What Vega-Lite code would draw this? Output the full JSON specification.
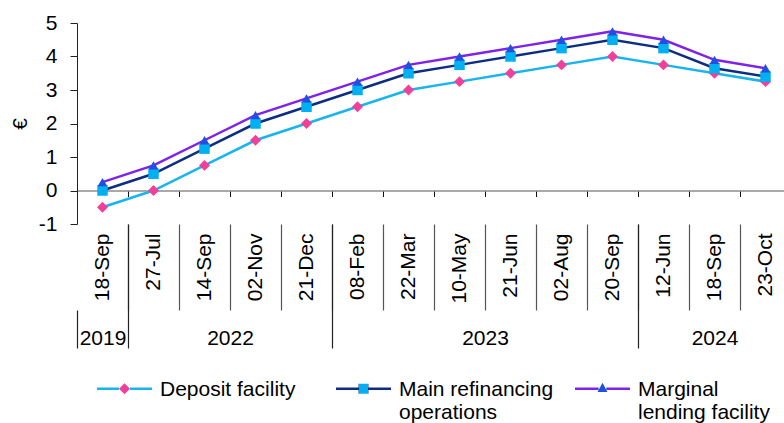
{
  "$schema": "https://vega.github.io/schema/vega-lite/v6.json",
  "width": 707,
  "height": 201,
  "autosize": "none",
  "padding": {"left": 77, "top": 23, "right": 0, "bottom": 199},
  "background": "white",
  "config": {
    "font": "Liberation Sans",
    "view": {"stroke": null},
    "axis": {"labelFontSize": 21, "labelColor": "#000000", "grid": false, "titleFontWeight": "normal", "labelOverlap": false},
    "axisY": {
      "values": [-1, 0, 1, 2, 3, 4, 5],
      "labelOverlap": false,
      "labelSeparation": -30,
      "labelExpr": "datum.value + ''",
      "domainColor": "#222222",
      "tickColor": "#222222",
      "tickSize": 7,
      "labelPadding": 13,
      "titleFontSize": 21,
      "titleColor": "#000000",
      "titlePadding": 8
    },
    "legend": {"labelFontSize": 21, "labelColor": "#000000"}
  },
  "data": {
    "values": [
      {"date": "2019-09-18", "series": "Deposit facility", "rate": -0.5},
      {"date": "2022-07-27", "series": "Deposit facility", "rate": 0},
      {"date": "2022-09-14", "series": "Deposit facility", "rate": 0.75},
      {"date": "2022-11-02", "series": "Deposit facility", "rate": 1.5},
      {"date": "2022-12-21", "series": "Deposit facility", "rate": 2.0},
      {"date": "2023-02-08", "series": "Deposit facility", "rate": 2.5},
      {"date": "2023-03-22", "series": "Deposit facility", "rate": 3.0},
      {"date": "2023-05-10", "series": "Deposit facility", "rate": 3.25},
      {"date": "2023-06-21", "series": "Deposit facility", "rate": 3.5},
      {"date": "2023-08-02", "series": "Deposit facility", "rate": 3.75},
      {"date": "2023-09-20", "series": "Deposit facility", "rate": 4.0},
      {"date": "2024-06-12", "series": "Deposit facility", "rate": 3.75},
      {"date": "2024-09-18", "series": "Deposit facility", "rate": 3.5},
      {"date": "2024-10-23", "series": "Deposit facility", "rate": 3.25},
      {"date": "2019-09-18", "series": "Main refinancing operations", "rate": 0},
      {"date": "2022-07-27", "series": "Main refinancing operations", "rate": 0.5},
      {"date": "2022-09-14", "series": "Main refinancing operations", "rate": 1.25},
      {"date": "2022-11-02", "series": "Main refinancing operations", "rate": 2.0},
      {"date": "2022-12-21", "series": "Main refinancing operations", "rate": 2.5},
      {"date": "2023-02-08", "series": "Main refinancing operations", "rate": 3.0},
      {"date": "2023-03-22", "series": "Main refinancing operations", "rate": 3.5},
      {"date": "2023-05-10", "series": "Main refinancing operations", "rate": 3.75},
      {"date": "2023-06-21", "series": "Main refinancing operations", "rate": 4.0},
      {"date": "2023-08-02", "series": "Main refinancing operations", "rate": 4.25},
      {"date": "2023-09-20", "series": "Main refinancing operations", "rate": 4.5},
      {"date": "2024-06-12", "series": "Main refinancing operations", "rate": 4.25},
      {"date": "2024-09-18", "series": "Main refinancing operations", "rate": 3.65},
      {"date": "2024-10-23", "series": "Main refinancing operations", "rate": 3.4},
      {"date": "2019-09-18", "series": "Marginal lending facility", "rate": 0.25},
      {"date": "2022-07-27", "series": "Marginal lending facility", "rate": 0.75},
      {"date": "2022-09-14", "series": "Marginal lending facility", "rate": 1.5},
      {"date": "2022-11-02", "series": "Marginal lending facility", "rate": 2.25},
      {"date": "2022-12-21", "series": "Marginal lending facility", "rate": 2.75},
      {"date": "2023-02-08", "series": "Marginal lending facility", "rate": 3.25},
      {"date": "2023-03-22", "series": "Marginal lending facility", "rate": 3.75},
      {"date": "2023-05-10", "series": "Marginal lending facility", "rate": 4.0},
      {"date": "2023-06-21", "series": "Marginal lending facility", "rate": 4.25},
      {"date": "2023-08-02", "series": "Marginal lending facility", "rate": 4.5},
      {"date": "2023-09-20", "series": "Marginal lending facility", "rate": 4.75},
      {"date": "2024-06-12", "series": "Marginal lending facility", "rate": 4.5},
      {"date": "2024-09-18", "series": "Marginal lending facility", "rate": 3.9},
      {"date": "2024-10-23", "series": "Marginal lending facility", "rate": 3.65}
    ]
  },
  "layer": [
    {
      "mark": {"type": "line", "strokeWidth": 2.5},
      "encoding": {
        "x": {
          "field": "date",
          "type": "ordinal",
          "scale": {"type": "band", "range": [0, 714], "paddingInner": 0, "paddingOuter": 0},
          "axis": {
            "orient": "bottom",
            "offset": -33.5,
            "domain": true,
            "domainColor": "#8c8c8c",
            "domainWidth": 1.5,
            "ticks": true,
            "tickBand": "extent",
            "tickSize": 6,
            "tickColor": "#111111",
            "labels": false,
            "title": null
          }
        },
        "y": {
          "field": "rate",
          "type": "quantitative",
          "title": "€",
          "scale": {"domain": [-1, 5], "nice": false, "zero": false},
          "axis": {"labelOverlap": false, "values": [-1, 0, 1, 2, 3, 4, 5]}
        },
        "color": {
          "field": "series",
          "type": "nominal",
          "scale": {
            "domain": ["Deposit facility", "Main refinancing operations", "Marginal lending facility"],
            "range": ["#18B4EE", "#0C2D82", "#7E22EC"]
          },
          "legend": {
            "orient": "none",
            "legendX": 20,
            "legendY": 338,
            "direction": "horizontal",
            "columns": 3,
            "gridAlign": "all",
            "columnPadding": 21,
            "title": null,
            "labelOffset": 8,
            "labelLimit": 0,
            "labelBaseline": "top",
            "symbolSize": 3025,
            "symbolStrokeWidth": 0,
            "labelExpr": "datum.label == 'Main refinancing operations' ? ['Main refinancing', 'operations'] : datum.label == 'Marginal lending facility' ? ['Marginal', 'lending facility'] : [datum.label, '']",
            "encode": {
              "labels": {"update": {"dy": {"value": -10}}},
              "symbols": {
                "update": {
                  "strokeWidth": {"value": 0},
                  "shape": [
                    {"test": "datum.value == 'Deposit facility'", "value": "M-1,-0.045H-0.2V0.045H-1Z M0.2,-0.045H1V0.045H0.2Z M-0.2,0L0,-0.2L0.2,0L0,0.2Z"},
                    {"test": "datum.value == 'Main refinancing operations'", "value": "M-1,-0.045H-0.18V0.045H-1Z M0.18,-0.045H1V0.045H0.18Z M-0.18,-0.18H0.18V0.18H-0.18Z"},
                    {"value": "M-1,-0.045H-0.14V0.045H-1Z M0.14,-0.045H1V0.045H0.14Z M0,-0.22L0.18,0.12L-0.18,0.12Z"}
                  ],
                  "fill": [
                    {"test": "datum.value == 'Deposit facility'", "value": {"gradient": "linear", "x1": 0, "y1": 0, "x2": 1, "y2": 0, "stops": [{"offset": 0, "color": "#18B4EE"}, {"offset": 0.4, "color": "#18B4EE"}, {"offset": 0.4, "color": "#F0409A"}, {"offset": 0.6, "color": "#F0409A"}, {"offset": 0.6, "color": "#18B4EE"}, {"offset": 1, "color": "#18B4EE"}]}},
                    {"test": "datum.value == 'Main refinancing operations'", "value": {"gradient": "linear", "x1": 0, "y1": 0, "x2": 1, "y2": 0, "stops": [{"offset": 0, "color": "#0C2D82"}, {"offset": 0.41, "color": "#0C2D82"}, {"offset": 0.41, "color": "#00B0F0"}, {"offset": 0.59, "color": "#00B0F0"}, {"offset": 0.59, "color": "#0C2D82"}, {"offset": 1, "color": "#0C2D82"}]}},
                    {"value": {"gradient": "linear", "x1": 0, "y1": 0, "x2": 1, "y2": 0, "stops": [{"offset": 0, "color": "#7E22EC"}, {"offset": 0.41, "color": "#7E22EC"}, {"offset": 0.41, "color": "#2150E0"}, {"offset": 0.59, "color": "#2150E0"}, {"offset": 0.59, "color": "#7E22EC"}, {"offset": 1, "color": "#7E22EC"}]}}
                  ]
                }
              }
            }
          }
        }
      }
    },
    {
      "transform": [{"filter": "datum.series == 'Deposit facility'"}],
      "mark": {"type": "point", "shape": "diamond", "filled": true, "fill": "#F0409A", "size": 120, "opacity": 1},
      "encoding": {
        "x": {
          "field": "date",
          "type": "ordinal",
          "axis": {
            "orient": "bottom",
            "domain": false,
            "tickBand": "extent",
            "tickSize": 86,
            "tickColor": "#555555",
            "tickWidth": 1.2,
            "tickOpacity": {"condition": {"test": "!isValid(datum.value)", "value": 0}, "value": 1},
            "labelAngle": -90,
            "labelPadding": -77,
            "labelOverlap": false,
            "labelExpr": "isValid(datum.value) ? utcFormat(toDate(datum.value), '%d-%b') : ''",
            "title": null
          }
        },
        "y": {"field": "rate", "type": "quantitative", "title": "€", "axis": {"labelOverlap": false, "values": [-1, 0, 1, 2, 3, 4, 5]}}
      }
    },
    {
      "transform": [{"filter": "datum.series == 'Main refinancing operations'"}],
      "mark": {"type": "point", "shape": "square", "filled": true, "fill": "#00B0F0", "size": 110, "opacity": 1},
      "encoding": {
        "x": {
          "field": "date",
          "type": "ordinal",
          "axis": {
            "orient": "bottom",
            "domain": false,
            "tickBand": "extent",
            "tickSize": 124,
            "tickColor": "#222222",
            "tickWidth": 1.2,
            "tickOpacity": {"condition": {"test": "!isValid(datum.value) || indexof(['2019-09-18', '2022-12-21', '2023-09-20'], datum.value) >= 0", "value": 1}, "value": 0},
            "tickDash": {"condition": {"test": "!isValid(datum.value)", "value": [0, 86, 38, 0]}, "value": [1, 0]},
            "labelAngle": 0,
            "labelPadding": -21,
            "labelOverlap": false,
            "labelOffset": {"condition": {"test": "datum.value == '2022-11-02' || datum.value == '2023-06-21'", "value": -25.5}, "value": 0},
            "labelExpr": "indexof(['2019-09-18', '2022-11-02', '2023-06-21', '2024-09-18'], datum.value) >= 0 ? slice(datum.value, 0, 4) : ''",
            "title": null
          }
        },
        "y": {"field": "rate", "type": "quantitative", "title": "€", "axis": {"labelOverlap": false, "values": [-1, 0, 1, 2, 3, 4, 5]}}
      }
    },
    {
      "transform": [{"filter": "datum.series == 'Marginal lending facility'"}],
      "mark": {"type": "point", "shape": "triangle-up", "filled": true, "fill": "#2150E0", "size": 95, "opacity": 1},
      "encoding": {
        "x": {"field": "date", "type": "ordinal", "axis": null},
        "y": {"field": "rate", "type": "quantitative", "title": "€", "axis": {"labelOverlap": false, "values": [-1, 0, 1, 2, 3, 4, 5]}}
      }
    }
  ],
  "resolve": {"axis": {"x": "independent"}}
}
